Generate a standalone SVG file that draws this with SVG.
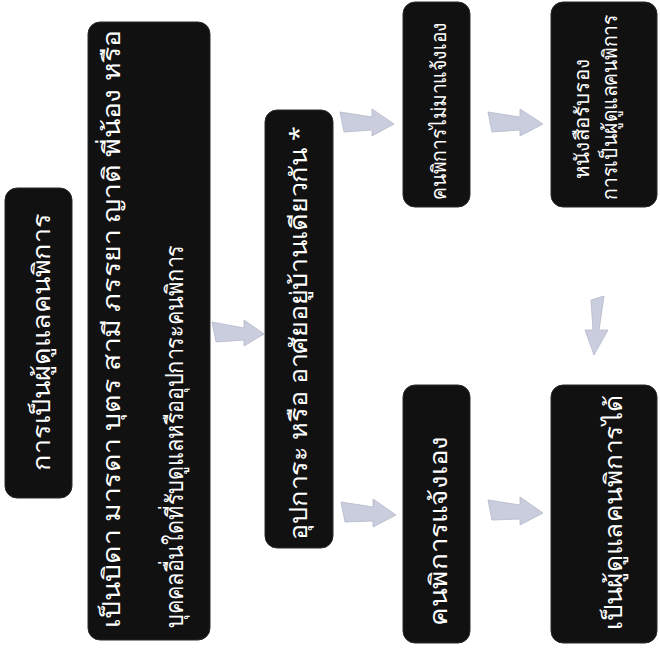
<svg xmlns="http://www.w3.org/2000/svg" width="660" height="665" viewBox="0 0 660 665">
<defs>
<style>
.box{fill:#111111;stroke:#2a2a2a;stroke-width:1}
.t{font-family:"Noto Sans","DejaVu Sans",sans-serif;fill:#ffffff;font-size:24px}
.s{font-size:20px}
.arr{fill:#c9cdde;stroke:#b4b8c8;stroke-width:0.8}
</style>
</defs>
<rect width="660" height="665" fill="#ffffff"/>
<g id="connectors">
<polygon class="arr" points="212,322 244,328 244,320 264,334 244,346 244,340 216,342"/>
<polygon class="arr" points="340,112 372,117 372,109 394,124 372,136 372,130 344,132"/>
<polygon class="arr" points="341,502 373,507 373,499 396,515 373,527 373,521 345,522"/>
<polygon class="arr" points="488,112 520,117 520,109 543,124 520,136 520,130 492,132"/>
<polygon class="arr" points="488,500 520,505 520,497 543,513 520,525 520,519 492,520"/>
<polygon class="arr" points="604,296 599,330 608,330 594,355 585,330 593,330 591,300"/>
</g>
<g id="n1">
<rect class="box" x="5" y="188" width="67" height="310" rx="12"/>
<text class="t" transform="translate(50,342) rotate(-90)" text-anchor="middle" textLength="257" lengthAdjust="spacingAndGlyphs">การเป็นผู้ดูแลคนพิการ</text>
</g>
<g id="n2">
<rect class="box" x="88" y="22" width="122" height="618" rx="12"/>
<text class="t" transform="translate(120,628) rotate(-90)" textLength="598" lengthAdjust="spacingAndGlyphs">เป็นบิดา มารดา บุตร สามี ภรรยา ญาติ พี่น้อง หรือ</text>
<text class="t" transform="translate(183,628) rotate(-90)" textLength="383" lengthAdjust="spacingAndGlyphs">บุคคลอื่นใดที่รับดูแลหรืออุปการะคนพิการ</text>
</g>
<g id="n3">
<rect class="box" x="265" y="110" width="68" height="438" rx="12"/>
<text class="t" transform="translate(307,540) rotate(-90)" textLength="414" lengthAdjust="spacingAndGlyphs">อุปการะ หรือ อาศัยอยู่บ้านเดียวกัน *</text>
</g>
<g id="n4a">
<rect class="box" x="403" y="2" width="67" height="205" rx="12"/>
<text class="t s" transform="translate(446,200) rotate(-90)" textLength="178" lengthAdjust="spacingAndGlyphs">คนพิการไม่มาแจ้งเอง</text>
</g>
<g id="n4b">
<rect class="box" x="403" y="385" width="67" height="258" rx="12"/>
<text class="t" transform="translate(447,626) rotate(-90)" textLength="190" lengthAdjust="spacingAndGlyphs">คนพิการแจ้งเอง</text>
</g>
<g id="n5a">
<rect class="box" x="551" y="2" width="106" height="205" rx="12"/>
<text class="t s" transform="translate(589,119) rotate(-90)" text-anchor="middle" textLength="120" lengthAdjust="spacingAndGlyphs">หนังสือรับรอง</text>
<text class="t s" transform="translate(617,107) rotate(-90)" text-anchor="middle" textLength="185" lengthAdjust="spacingAndGlyphs">การเป็นผู้ดูแลคนพิการ</text>
</g>
<g id="n5b">
<rect class="box" x="551" y="385" width="106" height="258" rx="12"/>
<text class="t" transform="translate(622,630) rotate(-90)" textLength="235" lengthAdjust="spacingAndGlyphs">เป็นผู้ดูแลคนพิการได้</text>
</g>
</svg>
